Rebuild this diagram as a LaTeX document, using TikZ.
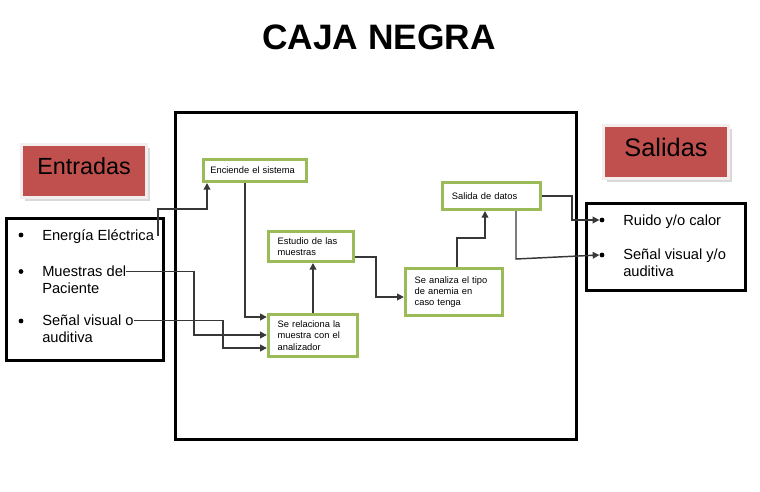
\documentclass[tikz,border=0pt]{standalone}
\usepackage{fontspec}
\setmainfont{Liberation Sans}
\usetikzlibrary{arrows.meta,shadows}

\definecolor{verde}{RGB}{155,187,89}
\definecolor{rojo}{RGB}{192,80,77}
\definecolor{gris}{RGB}{55,55,55}
\definecolor{borde}{RGB}{243,237,237}

\begin{document}
\begin{tikzpicture}[x = 0.75pt, y = -0.75pt,
    marco/.style = {line width = 2.25pt, draw = black},
    paso/.style = {draw = verde, line width = 2.25pt, fill = white, align = left, inner xsep = 7pt, inner ysep = 0pt, font = \fontsize{7}{8.5}\selectfont},
    etiqueta/.style = {fill = rojo, draw = borde, line width = 2.5pt, minimum width = 94pt, minimum height = 40pt, text depth = 7pt, inner sep = 0pt, drop shadow = {shadow xshift = 2.5pt, shadow yshift = -2.5pt, fill = gray!50, opacity = 0.6}},
    lista/.style = {anchor = base west, inner sep = 0pt, font = \fontsize{11}{13}\selectfont},
    vineta/.style = {circle, fill = black, inner sep = 0pt, minimum size = 3.6pt},
    flecha/.style = {draw = gris, line width = 1.1pt, -{Triangle[length = 5pt, width = 5pt]}}]

    \useasboundingbox (0, 0) rectangle (760, 492);

    \node[font = \bfseries\fontsize{26.5}{30}\selectfont] (titulo) at (379, 37) {CAJA NEGRA};

    % marcos
    \draw[marco] (175.5, 112.5) rectangle (576.5, 439.5);
    \draw[marco] (6.5, 218.5) rectangle (163.5, 360.5);
    \draw[marco] (586.5, 203.5) rectangle (745.5, 290.5);

    \node[etiqueta, font = \fontsize{17.5}{20}\selectfont] (entradas) at (84, 171) {Entradas};
    \node[etiqueta, font = \fontsize{19}{22}\selectfont] (salidas) at (666, 152) {Salidas};

    % entradas
    \node[vineta] (b1) at (21, 235) {};
    \node[lista] (ee) at (42, 240) {Energía Eléctrica};
    \node[vineta] (b2) at (21, 271.5) {};
    \node[lista] (mue1) at (42, 276.5) {Muestras del};
    \node[lista] (mue2) at (42, 293) {Paciente};
    \node[vineta] (b3) at (21, 321) {};
    \node[lista] (sen1) at (42, 325.5) {Señal visual o};
    \node[lista] (sen2) at (42, 342) {auditiva};

    % salidas
    \node[vineta] (rb1) at (602, 220) {};
    \node[lista] (rui) at (623, 225) {Ruido y/o calor};
    \node[vineta] (rb2) at (602, 255) {};
    \node[lista] (sv1) at (623, 259.5) {Señal visual y/o};
    \node[lista] (sv2) at (623, 276) {auditiva};

    % pasos
    \node[paso, inner xsep = 5pt, text width = 67pt, minimum height = 16.5pt] (enc) at (255, 170.5) {Enciende el sistema};
    \node[paso, text width = 50pt, minimum height = 22.5pt] (est) at (311, 246.5) {Estudio de las\\muestras};
    \node[paso, text width = 53pt, minimum height = 31.5pt] (rel) at (313, 335.5) {Se relaciona la\\muestra con el\\analizador};
    \node[paso, text width = 59pt, minimum height = 35.25pt] (ana) at (454, 292) {Se analiza el tipo\\de anemia en\\caso tenga};
    \node[paso, text width = 59.5pt, minimum height = 20.25pt] (sal) at (491.5, 196) {Salida de datos};

    \coordinate (c1) at (207, 209);
    \coordinate (c2) at (245, 317);
    \coordinate (c3) at (194, 335);
    \coordinate (c4) at (223, 348);
    \coordinate (c6) at (376, 297);
    \coordinate (c7a) at (457, 238);
    \coordinate (c7b) at (485, 238);
    \coordinate (c8) at (572, 220);
    \coordinate (c9) at (516, 259);

    \draw[flecha] ([xshift = 3pt]ee.east) |- (c1) -- (c1 |- enc.south);
    \draw[flecha] (enc.south -| c2) |- (rel.west |- c2);
    \draw[flecha] (mue1.east) -| (c3) -- (c3 -| rel.west);
    \draw[flecha] (sen1.east) -| (c4) -- (c4 -| rel.west);
    \draw[flecha] (rel.north) -- (rel.north |- est.south);
    \draw[flecha] ([yshift = -8pt]est.east) -| (c6) -- (c6 -| ana.west);
    \draw[flecha] (ana.north -| c7a) -- (c7a) -- (c7b) -- (c7b |- sal.south);
    \draw[flecha] (sal.east) -| (c8) -- (rb1.west);
    \draw[flecha] (sal.south -| c9) -- (c9) -- (rb2.west);

\end{tikzpicture}
\end{document}
